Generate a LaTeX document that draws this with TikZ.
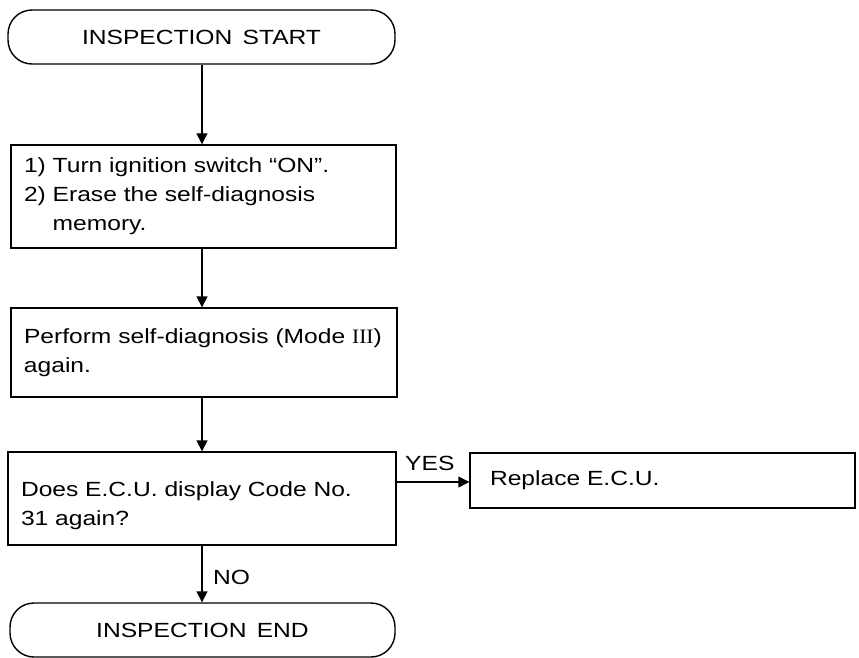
\documentclass[tikz,border=0pt]{standalone}
\usepackage{fontspec}
\setmainfont{Liberation Sans}[FakeStretch=1.2]
\newfontfamily\romfont{Liberation Serif}[FakeStretch=1.05]
\usetikzlibrary{arrows.meta}
\tikzset{
  every node/.style={font=\fontsize{20.5}{29}\selectfont},
  base/.style={draw=black, line width=1.4pt, inner ysep=6pt},
  term/.style={base, rounded corners=24pt, align=center},
  proc/.style={base, align=left, inner xsep=13pt},
  lbl/.style={inner sep=0pt, anchor=base west},
  flow/.style={line width=1.4pt, -{Triangle[length=11pt,width=11pt]}}
}
\begin{document}
\begin{tikzpicture}[x=1pt,y=-1pt]
\useasboundingbox (0,0) rectangle (859,658);
\node[term, minimum width=387pt, minimum height=54pt] (start) at (201.5,37) {INSPECTION\hspace{0.5em}START};
\node[proc, text width=359pt, minimum height=103pt] (b1) at (203.5,196.5)
  {1)\ Turn ignition switch “ON”.\\2)\ Erase the self-diagnosis\\\hphantom{2)\ }memory.};
\node[proc, text width=360pt, minimum height=89pt] (b2) at (204,352.5)
  {Perform self-diagnosis (Mode {\romfont III})\\again.};
\node[proc, text width=362pt, minimum height=93pt] (b3) at (202,498.5)
  {\rule{0pt}{29pt}Does E.C.U. display Code No.\\31 again?};
\node[proc, inner xsep=20pt, text width=345pt, minimum height=55pt] (rep) at (662.5,480.5)
  {Replace E.C.U.};
\node[term, minimum width=385pt, minimum height=54pt] (end) at (202.5,630) {INSPECTION\hspace{0.5em}END};
\draw[flow] (start.south -| 202,0) -- (b1.north -| 202,0);
\draw[flow] (b1.south -| 202,0) -- (b2.north -| 202,0);
\draw[flow] (b2.south -| 202,0) -- (b3.north -| 202,0);
\draw[flow] (b3.south -| 202,0) -- (end.north -| 202,0);
\draw[flow] (b3.east |- 0,482) -- (rep.west |- 0,482);
\node[lbl] (yes) at (405,470) {YES};
\node[lbl] (no) at (213,584) {NO};
\end{tikzpicture}
\end{document}
